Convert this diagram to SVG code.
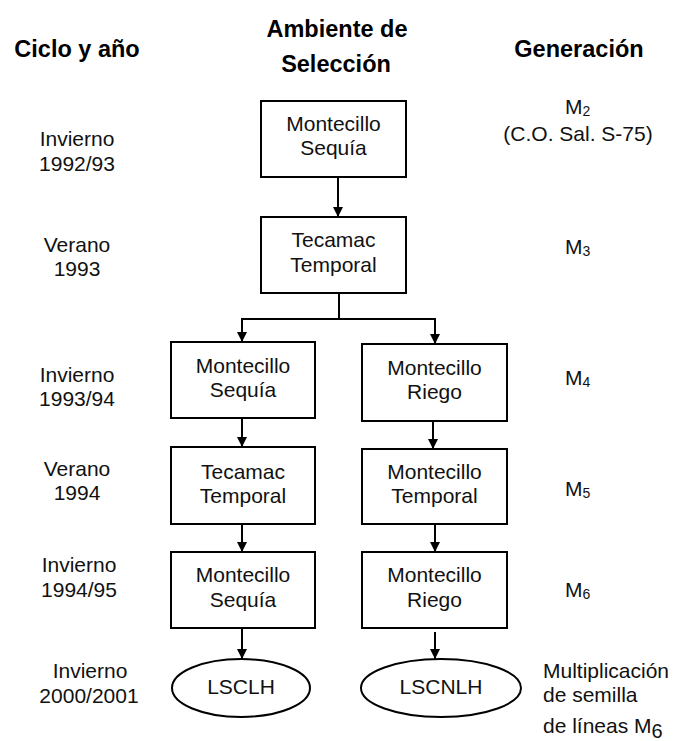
<svg xmlns="http://www.w3.org/2000/svg" width="686" height="741" viewBox="0 0 686 741">
<defs>
<style>
.box{fill:#fff;stroke:#000;stroke-width:2}
.t{font-family:"Liberation Sans",Arial,sans-serif;font-size:21px;fill:#111;text-anchor:middle}
.l{font-family:"Liberation Sans",Arial,sans-serif;font-size:21px;fill:#111}
.h{font-family:"Liberation Sans",Arial,sans-serif;font-size:23.5px;font-weight:bold;fill:#000;text-anchor:middle}
.c{fill:none;stroke:#000;stroke-width:2}
.sub{font-size:14px}
</style>
<marker id="ah" viewBox="0 0 10 10" refX="10" refY="5" markerWidth="10" markerHeight="10" markerUnits="userSpaceOnUse" orient="auto">
<path d="M0,0 L10,5 L0,10 z" fill="#000"/>
</marker>
</defs>
<rect width="686" height="741" fill="#fff"/>

<g id="headers">
<text class="h" x="77" y="57">Ciclo y año</text>
<text class="h" x="337" y="37">Ambiente de</text>
<text class="h" x="336" y="72">Selección</text>
<text class="h" x="579" y="57">Generación</text>
</g>

<g id="ciclos">
<text class="t" x="77" y="146">Invierno</text>
<text class="t" x="77" y="171">1992/93</text>
<text class="t" x="77" y="252">Verano</text>
<text class="t" x="77" y="276">1993</text>
<text class="t" x="77" y="382">Invierno</text>
<text class="t" x="77" y="406">1993/94</text>
<text class="t" x="77" y="476">Verano</text>
<text class="t" x="77" y="500">1994</text>
<text class="t" x="79" y="572">Invierno</text>
<text class="t" x="79" y="597">1994/95</text>
<text class="t" x="90" y="678">Invierno</text>
<text class="t" x="89" y="703">2000/2001</text>
</g>

<g id="generaciones">
<text class="l" x="565" y="114">M<tspan class="sub" dy="2">2</tspan></text>
<text class="t" x="578" y="141">(C.O. Sal. S-75)</text>
<text class="l" x="565" y="254">M<tspan class="sub" dy="2">3</tspan></text>
<text class="l" x="565" y="385">M<tspan class="sub" dy="2">4</tspan></text>
<text class="l" x="565" y="496">M<tspan class="sub" dy="2">5</tspan></text>
<text class="l" x="565" y="597">M<tspan class="sub" dy="2">6</tspan></text>
<text class="l" x="543" y="678">Multiplicación</text>
<text class="l" x="543" y="702">de semilla</text>
<text class="l" x="543" y="733">de líneas M<tspan dy="5" font-size="20">6</tspan></text>
</g>

<g id="connectors">
<line class="c" x1="338" y1="177" x2="338" y2="217" marker-end="url(#ah)"/>
<polyline class="c" points="339,293 339,319"/>
<polyline class="c" points="242,342 242,319 435,319 435,344" marker-end="url(#ah)"/>
<line class="c" x1="242" y1="319" x2="242" y2="342" marker-end="url(#ah)"/>
<line class="c" x1="242" y1="418" x2="242" y2="447" marker-end="url(#ah)"/>
<line class="c" x1="242" y1="524" x2="242" y2="552" marker-end="url(#ah)"/>
<line class="c" x1="242" y1="628" x2="242" y2="659" marker-end="url(#ah)"/>
<line class="c" x1="433" y1="421" x2="433" y2="449" marker-end="url(#ah)"/>
<line class="c" x1="435" y1="524" x2="435" y2="552" marker-end="url(#ah)"/>
<line class="c" x1="435" y1="632" x2="435" y2="659" marker-end="url(#ah)"/>
</g>

<g id="n1">
<rect class="box" x="261" y="101" width="145" height="76"/>
<text class="t" x="333.5" y="131">Montecillo</text>
<text class="t" x="333.5" y="155">Sequía</text>
</g>
<g id="n2">
<rect class="box" x="261" y="217" width="145" height="76"/>
<text class="t" x="333.5" y="247">Tecamac</text>
<text class="t" x="333.5" y="272">Temporal</text>
</g>
<g id="n3">
<rect class="box" x="171" y="342" width="144" height="76"/>
<text class="t" x="243" y="373">Montecillo</text>
<text class="t" x="243" y="397">Sequía</text>
</g>
<g id="n4">
<rect class="box" x="362" y="344" width="145" height="77"/>
<text class="t" x="434.5" y="375">Montecillo</text>
<text class="t" x="434.5" y="399">Riego</text>
</g>
<g id="n5">
<rect class="box" x="171" y="447" width="144" height="77"/>
<text class="t" x="243" y="479">Tecamac</text>
<text class="t" x="243" y="503">Temporal</text>
</g>
<g id="n6">
<rect class="box" x="362" y="449" width="145" height="75"/>
<text class="t" x="434.5" y="479">Montecillo</text>
<text class="t" x="434.5" y="503">Temporal</text>
</g>
<g id="n7">
<rect class="box" x="171" y="552" width="144" height="76"/>
<text class="t" x="243" y="582">Montecillo</text>
<text class="t" x="243" y="607">Sequía</text>
</g>
<g id="n8">
<rect class="box" x="362" y="552" width="145" height="76"/>
<text class="t" x="434.5" y="582">Montecillo</text>
<text class="t" x="434.5" y="607">Riego</text>
</g>
<g id="n9">
<ellipse class="box" cx="241" cy="688" rx="69" ry="29"/>
<text class="t" x="241" y="694">LSCLH</text>
</g>
<g id="n10">
<ellipse class="box" cx="441" cy="688" rx="80" ry="29"/>
<text class="t" x="441" y="694">LSCNLH</text>
</g>
</svg>
